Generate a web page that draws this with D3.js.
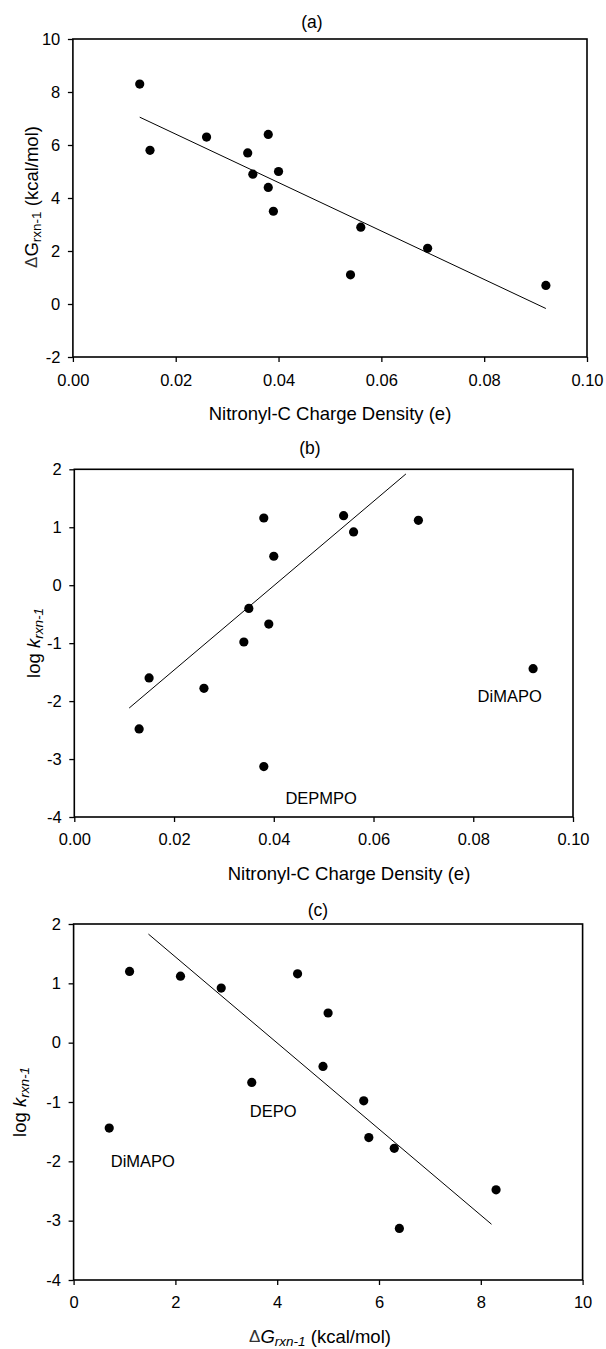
<!DOCTYPE html>
<html><head><meta charset="utf-8">
<script src="https://cdn.jsdelivr.net/npm/d3@7"></script>
<style>
body{margin:0;background:#fff}
svg{display:block}
text{font-family:"Liberation Sans",Arial,Helvetica,sans-serif;fill:#000}
</style>
</head><body>
<svg id="chart" width="606" height="1349"></svg>
<script>
// ---------------- data ----------------
const chargeDensity = [0.013,0.015,0.026,0.034,0.035,0.038,0.038,0.039,0.040,0.054,0.056,0.069,0.092];
const deltaG        = [8.3,5.8,6.3,5.7,4.9,6.4,4.4,3.5,5.0,1.1,2.9,2.1,0.7];
const logK          = [-2.48,-1.6,-1.78,-0.98,-0.4,-3.13,1.16,-0.67,0.5,1.2,0.92,1.12,-1.44];

const fitA_x = [0.013, 0.092], fitA_y = [7.05, -0.17];
const fitB_x = [0.011, 0.0665], fitB_y = [-2.12, 1.92];
const fitC_x = [1.47, 8.21],   fitC_y = [1.83, -3.06];

const xTicksCharge = [0, 0.02, 0.04, 0.06, 0.08, 0.10];
const xTicksG      = [0, 2, 4, 6, 8, 10];
const yTicksG      = [-2, 0, 2, 4, 6, 8, 10];
const yTicksLogK   = [-4, -3, -2, -1, 0, 1, 2];

const labelsB = ["DiMAPO", "DEPMPO"], labelsB_x = [0.0873, 0.0495], labelsB_y = [-1.91, -3.67];
const labelsC = ["DEPO", "DiMAPO"],   labelsC_x = [3.92, 1.36],     labelsC_y = [-1.15, -2.0];

// ---------------- drawing ----------------
const svg = d3.select("#chart");
const hy = f => d => f(d).replace("\u2212", "-");

function panel(o){
  const g = svg.append("g");
  const x = d3.scaleLinear().domain(o.xDomain).range([o.left, o.right]);
  const y = d3.scaleLinear().domain(o.yDomain).range([o.bottom, o.top]);

  const ax = g.append("g").attr("transform", `translate(0,${o.bottom})`)
    .call(d3.axisBottom(x).tickValues(o.xTicks).tickFormat(hy(o.xFmt)).tickSize(5).tickSizeOuter(0).tickPadding(o.xPad));
  const ay = g.append("g").attr("transform", `translate(${o.left},0)`)
    .call(d3.axisLeft(y).tickValues(o.yTicks).tickFormat(hy(d3.format("d"))).tickSize(5).tickSizeOuter(0).tickPadding(7.6));
  [ax, ay].forEach(a => {
    a.select(".domain").remove();
    a.selectAll(".tick line").attr("stroke", "#000").attr("stroke-width", 1.3);
    a.selectAll(".tick text").style("font-size", "16.5px").attr("fill", "#000");
  });

  g.append("rect").attr("x", o.left).attr("y", o.top)
    .attr("width", o.right - o.left).attr("height", o.bottom - o.top)
    .attr("fill", "none").attr("stroke", "#000").attr("stroke-width", 1.6);

  g.append("line")
    .attr("x1", x(o.fitX[0])).attr("y1", y(o.fitY[0]))
    .attr("x2", x(o.fitX[1])).attr("y2", y(o.fitY[1]))
    .attr("stroke", "#000").attr("stroke-width", 1);

  g.selectAll("circle.pt").data(o.xs.map((v, i) => [v, o.ys[i]])).join("circle")
    .attr("class", "pt").attr("cx", d => x(d[0])).attr("cy", d => y(d[1]))
    .attr("r", 4.6).attr("fill", "#000");

  if (o.labels) o.labels.forEach((t, i) => {
    g.append("text").attr("x", x(o.labelsX[i])).attr("y", y(o.labelsY[i]))
      .attr("text-anchor", "middle").attr("dominant-baseline", "central")
      .style("font-size", "16.5px").text(t);
  });

  g.append("text").attr("x", o.title[1]).attr("y", o.title[2])
    .attr("text-anchor", "middle").attr("dominant-baseline", "central")
    .style("font-size", "17.5px").text(o.title[0]);

  const xt = g.append("text").attr("x", o.xTitlePos[0]).attr("y", o.xTitlePos[1])
    .attr("text-anchor", "middle").attr("dominant-baseline", "central").style("font-size", "18.5px");
  o.xTitle(xt);

  const yt = g.append("text")
    .attr("transform", `translate(${o.yTitlePos[0]},${o.yTitlePos[1]}) rotate(-90)`)
    .attr("text-anchor", "middle").attr("dominant-baseline", "central").style("font-size", "18.5px");
  o.yTitle(yt);
}

const xTitleCharge = t => t.text("Nitronyl-C Charge Density (e)");
const yTitleLogK = t => {
  t.append("tspan").text("log ");
  t.append("tspan").style("font-style", "italic").text("k");
  t.append("tspan").style("font-style", "italic").style("font-size", "13.5px").attr("dy", 5).text("rxn-1");
};

panel({
  left: 72.9, right: 587, top: 39, bottom: 357,
  xDomain: [0, 0.10], yDomain: [-2, 10],
  xTicks: xTicksCharge, yTicks: yTicksG, xFmt: d3.format(".2f"), xPad: 12,
  xs: chargeDensity, ys: deltaG, fitX: fitA_x, fitY: fitA_y,
  title: ["(a)", 312, 22],
  xTitlePos: [330, 413], xTitle: xTitleCharge,
  yTitlePos: [31, 197],
  yTitle: t => {
    t.append("tspan").style("font-size", "17px").attr("fill", "#333").text("\u0394");
    t.append("tspan").text("G");
    t.append("tspan").style("font-size", "13.5px").attr("dy", 5).text("rxn-1");
    t.append("tspan").attr("dy", -5).text(" (kcal/mol)");
  }
});

panel({
  left: 74.3, right: 573, top: 469.3, bottom: 817,
  xDomain: [0, 0.10], yDomain: [-4, 2],
  xTicks: xTicksCharge, yTicks: yTicksLogK, xFmt: d3.format(".2f"), xPad: 11,
  xs: chargeDensity, ys: logK, fitX: fitB_x, fitY: fitB_y,
  labels: labelsB, labelsX: labelsB_x, labelsY: labelsB_y,
  title: ["(b)", 310, 448],
  xTitlePos: [349, 873], xTitle: xTitleCharge,
  yTitlePos: [33, 643], yTitle: yTitleLogK
});

panel({
  left: 73.6, right: 582.6, top: 924, bottom: 1280,
  xDomain: [0, 10], yDomain: [-4, 2],
  xTicks: xTicksG, yTicks: yTicksLogK, xFmt: d3.format("d"), xPad: 11,
  xs: deltaG, ys: logK, fitX: fitC_x, fitY: fitC_y,
  labels: labelsC, labelsX: labelsC_x, labelsY: labelsC_y,
  title: ["(c)", 318, 910],
  xTitlePos: [320, 1336],
  xTitle: t => {
    t.append("tspan").style("font-size", "17px").attr("fill", "#333").text("\u0394");
    t.append("tspan").style("font-style", "italic").text("G");
    t.append("tspan").style("font-style", "italic").style("font-size", "13.5px").attr("dy", 5).text("rxn-1");
    t.append("tspan").attr("dy", -5).text(" (kcal/mol)");
  },
  yTitlePos: [19, 1102], yTitle: yTitleLogK
});
</script>
</body></html>
